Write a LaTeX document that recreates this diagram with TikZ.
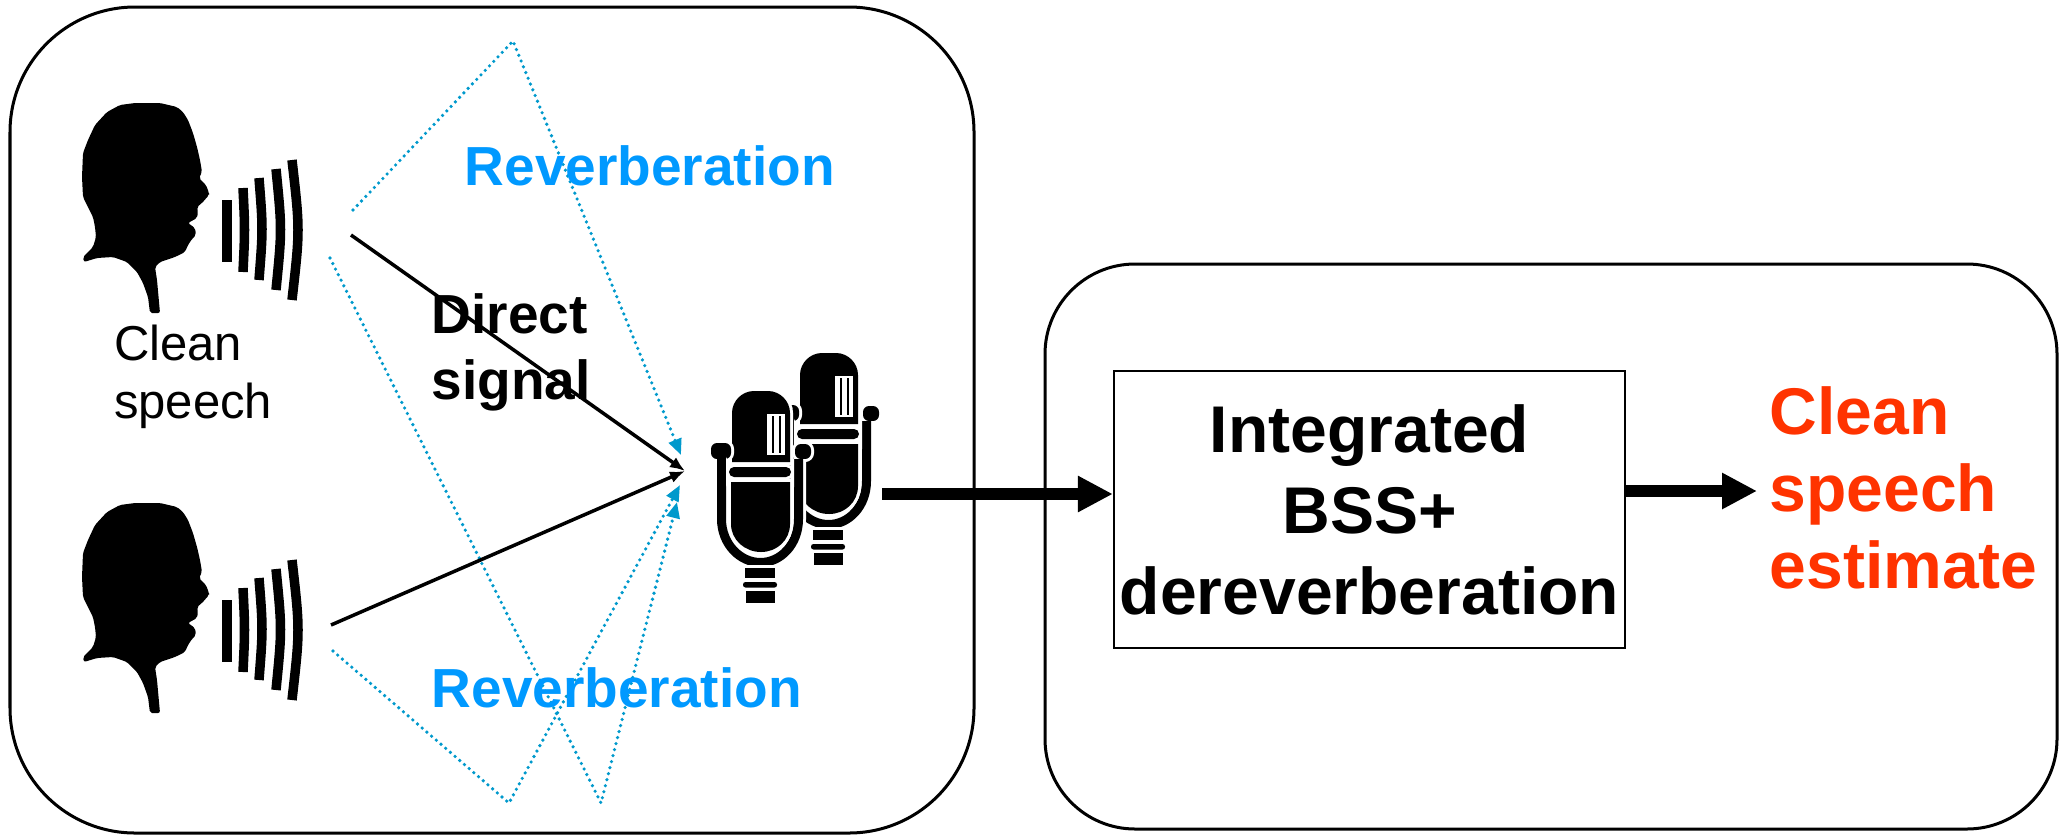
\documentclass[tikz,border=0pt]{standalone}
\usepackage{fontspec}
\setmainfont{Liberation Sans}
\usetikzlibrary{arrows.meta}

\definecolor{revtext}{RGB}{0,153,255}
\definecolor{revpath}{RGB}{0,153,204}
\definecolor{outred}{RGB}{255,51,0}

% font sizes (1 unit = 0.01cm = 0.2845pt)
\newcommand\boxfont{\fontsize{18.78pt}{23.05pt}\selectfont\bfseries}
\newcommand\outfont{\fontsize{18.78pt}{21.9pt}\selectfont\bfseries}
\newcommand\labfont{\fontsize{15.65pt}{18.78pt}\selectfont\bfseries}
\newcommand\srcfont{\fontsize{13.94pt}{16.5pt}\selectfont}

\tikzset{
  panel/.style={draw=black, line width=0.03cm},
  procbox/.style={draw=black, line width=0.02cm, inner sep=0pt, align=center,
    font=\boxfont, minimum width=5.11cm, minimum height=2.77cm},
  revlabel/.style={inner sep=0pt, font=\labfont, text=revtext},
  reflect/.style={revpath, line width=0.036cm, dash pattern=on 0pt off 0.062cm,
    line cap=round, -{Triangle[length=0.16cm, width=0.13cm]}},
  direct/.style={black, line width=0.035cm, -{Latex[length=0.15cm, width=0.12cm]}},
  bigarrow/.style={black, line width=0.12cm, -{Triangle[length=0.35cm, width=0.34cm]}},
  wave/.style={black, line width=0.095cm},
  mfill/.style={fill=black, preaction={draw=white, line width=0.06cm}},
  % talking head with sound waves
  pics/speaker/.style={code={
    \fill[rounded corners=0.02cm] (75,23) -- (100,23) -- (117,27) -- (123,32)
      -- (128,40) -- (133,53) -- (137,67) -- (140,80) -- (142,92) -- (139,98)
      -- (146,105) -- (149,113) -- (149,115) -- (142,123) -- (137,127)
      -- (138,132) -- (137,138) -- (128,143) -- (135,148) -- (136,155)
      -- (132,159) -- (128,165) -- (125,172) -- (115,177) -- (100,182)
      -- (95,187) -- (97,200) -- (100,233) -- (90,233) -- (88,217) -- (83,203)
      -- (77,192) -- (67,182) -- (53,177) -- (37,178) -- (24,182) -- (23,177)
      -- (28,172) -- (33,167) -- (36,157) -- (35,147) -- (33,137) -- (28,127)
      -- (23,117) -- (22,97) -- (23,73) -- (28,60) -- (35,45) -- (47,32)
      -- (60,25) -- cycle;
    \draw[wave] (167,120) -- (167,182);
    \draw[wave] (183,108) .. controls (185,150) .. (183,192);
    \draw[wave] (199,98) .. controls (203,149) .. (199,200);
    \draw[wave] (216,89) .. controls (222,149.5) .. (216,210);
    \draw[wave] (232,80) .. controls (240,150) .. (232,220);
  }},
  % studio microphone, origin at the top centre of the head
  pics/mic/.style={code={
    \fill[mfill] (-29,71) -- (-29,22) .. controls (-29,10) and (-19,0) .. (-7,0)
      -- (7,0) .. controls (19,0) and (29,10) .. (29,22) -- (29,71) -- cycle;
    \fill[white] (6,23) rectangle (24,64);
    \fill[black] (10.5,25) rectangle (12.5,62);
    \fill[black] (17.5,25) rectangle (19.5,62);
    \fill[mfill, rounded corners=0.06cm] (-50,52) rectangle (-30,68);
    \fill[mfill, rounded corners=0.06cm] (34,53) rectangle (50,68);
    \draw[white, line width=0.15cm] (-39.5,68) -- (-39.5,128)
      .. controls (-39.5,153) and (-21,171.5) .. (-0.5,171.5)
      .. controls (20,171.5) and (37.5,153) .. (37.5,128) -- (37.5,68);
    \draw[black, line width=0.09cm] (-39.5,68) -- (-39.5,128)
      .. controls (-39.5,153) and (-21,171.5) .. (-0.5,171.5)
      .. controls (20,171.5) and (37.5,153) .. (37.5,128) -- (37.5,68);
    \fill[mfill, rounded corners=0.05cm] (-32,76) rectangle (30,86);
    \fill[mfill] (-30,91) -- (-30,133) .. controls (-30,149) and (-16,161) .. (0,161)
      .. controls (16,161) and (29,149) .. (29,133) -- (29,91) -- cycle;
    \fill[mfill] (-16,177) rectangle (14,187);
    \fill[mfill, rounded corners=0.025cm] (-18,191) rectangle (16,196.5);
    \fill[mfill] (-15,200) rectangle (14,212);
  }},
}

\begin{document}
\begin{tikzpicture}[x=0.01cm, y=-0.01cm]
\useasboundingbox (0,0) rectangle (2064,836);

% the two panels
\draw[panel, rounded corners=1.25cm] (10,7) rectangle (974,833);
\draw[panel, rounded corners=0.9cm] (1045,264) rectangle (2057,829);

% speakers
\pic (spkA) at (60,80) {speaker};
\pic (spkB) at (60,480) {speaker};
\node[font=\srcfont, align=left, inner sep=0pt, anchor=north west] (clean)
  at (113.5,324.5) {Clean\\speech};

% microphone pair
\pic (micB) at (829,353) {mic};
\pic (micA) at (761,391) {mic};

% reflected paths
\coordinate (sA) at (353,210);
\coordinate (bA) at (513,41);
\coordinate (mA) at (681,455);
\coordinate (sB) at (330,258);
\coordinate (bB) at (601,803);
\coordinate (mB) at (677,502);
\coordinate (sC) at (333,651);
\coordinate (bC) at (509,803);
\coordinate (mC) at (680,485);
\draw[reflect] (sA) -- (bA) -- (mA);
\draw[reflect] (sB) -- (bB) -- (mB);
\draw[reflect] (sC) -- (bC) -- (mC);

% direct paths
\coordinate (dA) at (351,235);
\coordinate (dB) at (331,625);
\coordinate (micin) at (685,471);
\draw[direct] (dA) -- (micin);
\draw[direct] (dB) -- (micin);

\node[revlabel, anchor=base west] (revA) at (464,185) {Reverberation};
\node[revlabel, anchor=base west] (revB) at (431,707) {Reverberation};
\node[font=\labfont, align=left, inner sep=0pt, anchor=north west] (dirlab)
  at (431,292.6) {Direct\\signal};

% processing
\node[procbox] (bss) at (1369.5,509.5) {Integrated\\BSS+\\dereverberation};
\node[font=\outfont, text=outred, align=left, inner sep=0pt, anchor=north west]
  (est) at (1769,386) {Clean\\speech\\estimate};

\coordinate (micout) at (882,494);
\coordinate (outy) at (1757,491);
\draw[bigarrow] (micout) -- (micout -| bss.west);
\draw[bigarrow] (bss.east |- outy) -- (outy);
\end{tikzpicture}
\end{document}
